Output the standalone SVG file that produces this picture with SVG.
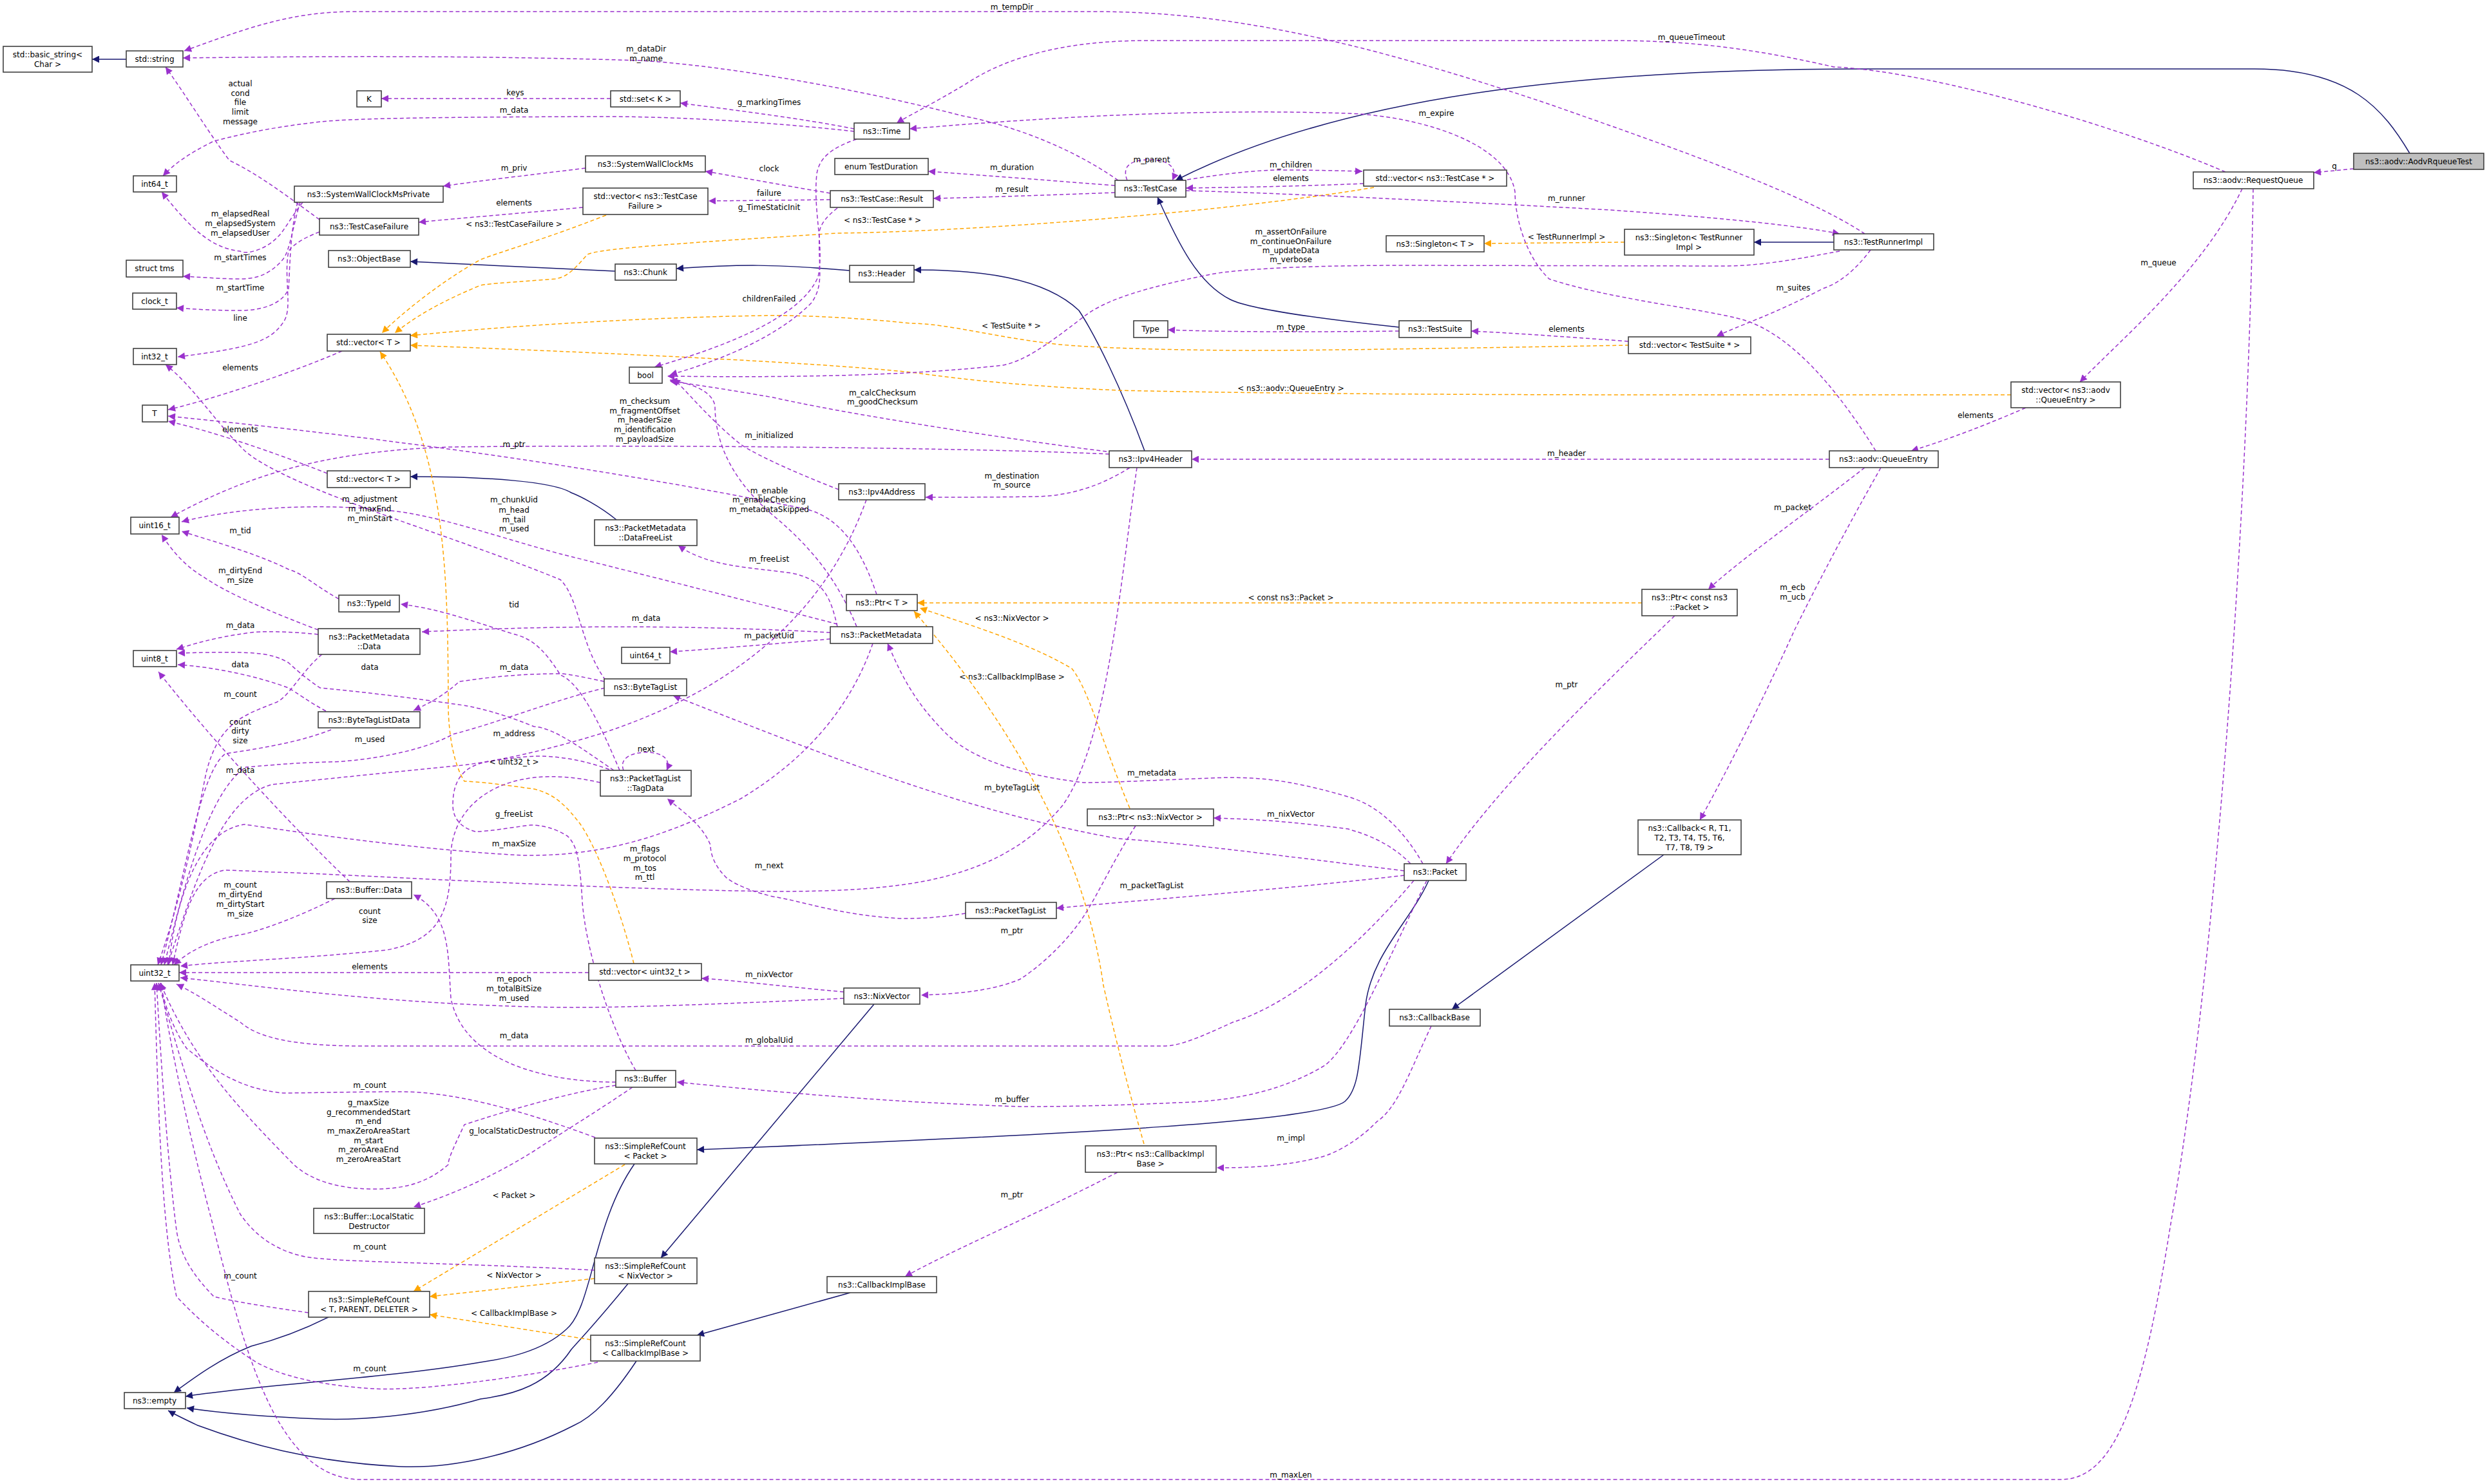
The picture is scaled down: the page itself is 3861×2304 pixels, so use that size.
<svg xmlns="http://www.w3.org/2000/svg" width="3861" height="2304" viewBox="0 0 3861 2304">
<style>
text{font-family:"DejaVu Sans","Liberation Sans",sans-serif;font-size:12px;fill:#000;text-anchor:middle}
.n rect{fill:#fff;stroke:#404040;stroke-width:1.6}
.c path{fill:none;stroke-width:1.5}
.nv{stroke:#191970}
.p{stroke:#9a32cd;stroke-dasharray:6,4}
.o{stroke:#ffa500;stroke-dasharray:6,4}
.c .nv{marker-end:url(#an)}
.c .p{marker-end:url(#ap)}
.c .o{marker-end:url(#ao)}
</style>
<defs>
<marker id="an" viewBox="0 0 10 10" refX="10" refY="5" markerWidth="13" markerHeight="11" markerUnits="userSpaceOnUse" orient="auto"><path d="M0,0L10,5L0,10z" fill="#191970"/></marker>
<marker id="ap" viewBox="0 0 10 10" refX="10" refY="5" markerWidth="13" markerHeight="11" markerUnits="userSpaceOnUse" orient="auto"><path d="M0,0L10,5L0,10z" fill="#9a32cd"/></marker>
<marker id="ao" viewBox="0 0 10 10" refX="10" refY="5" markerWidth="13" markerHeight="11" markerUnits="userSpaceOnUse" orient="auto"><path d="M0,0L10,5L0,10z" fill="#ffa500"/></marker>
</defs>
<rect width="3861" height="2304" fill="#fff"/>
<g class="c" id="connectors">
<path class="nv" d="M196,92 L143,92"/>
<path class="nv" d="M3741,238 C3700,170 3650,107 3500,107 L2900,107 C2500,107 2100,140 1825,280"/>
<path class="nv" d="M955,421 L637,406"/>
<path class="nv" d="M1319,420 C1200,410 1150,410 1050,417"/>
<path class="nv" d="M1777,700 C1740,600 1700,520 1675,482 C1620,430 1520,419 1419,419"/>
<path class="nv" d="M2172,508 C2050,495 1940,480 1910,465 C1860,440 1830,380 1797,306"/>
<path class="nv" d="M957,807 C930,785 900,770 887,765 C860,748 760,740 637,740"/>
<path class="nv" d="M2847,376 L2723,376"/>
<path class="nv" d="M2583,1327 L2254,1567"/>
<path class="nv" d="M2218,1367 C2190,1430 2130,1480 2120,1560 C2110,1650 2110,1690 2088,1710 C2050,1740 1700,1760 1082,1785"/>
<path class="nv" d="M1357,1559 L1026,1953"/>
<path class="nv" d="M1320,2007 L1082,2073"/>
<path class="nv" d="M510,2045 C470,2065 430,2080 390,2090 C340,2110 300,2140 270,2162"/>
<path class="nv" d="M985,1807 C920,1900 920,2030 879,2064 C840,2100 780,2110 746,2115 C600,2140 400,2150 288,2168"/>
<path class="nv" d="M975,1993 C920,2060 900,2080 887,2095 C850,2150 800,2165 746,2172 C650,2200 550,2205 497,2203 C420,2200 350,2195 290,2186"/>
<path class="nv" d="M988,2113 C950,2170 920,2200 891,2213 C800,2260 700,2280 622,2277 C480,2270 380,2240 307,2213 C290,2205 275,2198 261,2190"/>
<path class="o" d="M941,334 C850,370 780,390 746,403 C680,440 620,490 593,517"/>
<path class="o" d="M2133,291 C1900,330 1500,360 1300,362 C1100,375 930,385 912,395 C890,420 880,430 862,433 C800,438 760,440 746,443 C680,470 640,495 613,517"/>
<path class="o" d="M2529,536 C2300,540 2000,545 1914,544 C1800,543 1700,540 1646,535 C1550,525 1470,502 1414,502 C1300,490 1200,489 1186,490 C1000,493 800,505 637,521"/>
<path class="o" d="M3122,613 L2600,613 C2200,613 1900,610 1736,606 C1600,600 1500,590 1423,579 C1300,565 1000,550 637,536"/>
<path class="o" d="M2522,376 L2304,378"/>
<path class="o" d="M984,1496 C960,1400 920,1300 895,1272 C870,1240 850,1230 829,1225 C760,1215 730,1213 721,1213 C700,1180 696,1120 696,1098 C695,900 695,700 590,546"/>
<path class="o" d="M2549,936 L1424,936"/>
<path class="o" d="M1754,1255 C1710,1150 1690,1070 1664,1038 C1600,1000 1520,975 1428,944"/>
<path class="o" d="M1776,1776 C1740,1650 1720,1560 1713,1530 C1680,1300 1550,1100 1419,949"/>
<path class="o" d="M970,1808 L642,2005"/>
<path class="o" d="M923,1985 L667,2013"/>
<path class="o" d="M917,2080 L667,2041"/>
<path class="p" d="M1736,280 C1650,220 1550,190 1495,180 C1300,130 1100,100 995,94 C700,85 450,88 284,90"/>
<path class="p" d="M2895,363 C2800,300 2600,230 2400,160 C2100,60 1900,18 1700,18 L550,18 C450,18 380,45 286,79"/>
<path class="p" d="M3455,267 C3300,200 3000,110 2847,104 C2700,70 2600,63 2500,63 L1780,63 C1650,63 1560,90 1500,130 C1450,160 1410,180 1392,191"/>
<path class="p" d="M2912,700 C2850,600 2780,520 2708,497 C2650,480 2500,465 2405,433 C2370,400 2352,340 2352,298 C2340,220 2200,180 2093,176 C1900,170 1700,176 1412,200"/>
<path class="p" d="M948,153 L592,153"/>
<path class="p" d="M1326,200 C1250,185 1150,172 1056,160"/>
<path class="p" d="M1326,204 C1200,190 1050,180 912,181 C700,182 560,183 497,189 C400,200 350,215 332,219 C290,240 270,255 253,273"/>
<path class="p" d="M1330,216 C1290,230 1272,245 1268,270 C1262,330 1280,380 1270,430 C1240,500 1100,545 1016,570"/>
<path class="p" d="M1300,323 C1285,335 1275,345 1272,360 C1270,420 1280,440 1260,470 C1200,530 1100,565 1040,582"/>
<path class="p" d="M1289,300 C1200,285 1150,275 1095,266"/>
<path class="p" d="M1289,310 L1100,312"/>
<path class="p" d="M909,261 C820,272 750,280 688,289"/>
<path class="p" d="M905,322 C800,332 720,338 650,345"/>
<path class="p" d="M496,341 C440,300 400,270 356,249 C320,200 290,150 257,104"/>
<path class="p" d="M496,360 C470,370 455,380 448,390 C440,430 455,480 440,500 C420,530 390,540 276,554"/>
<path class="p" d="M470,314 C450,340 440,360 431,368 C410,390 380,395 373,390 C330,385 300,360 251,298"/>
<path class="p" d="M466,314 C455,350 450,390 439,403 C420,425 400,433 373,433 C340,433 310,430 284,429"/>
<path class="p" d="M462,314 C450,360 450,420 448,448 C440,470 410,482 373,482 C330,482 300,480 274,478"/>
<path class="p" d="M531,545 C450,580 330,620 261,636"/>
<path class="p" d="M508,735 C420,700 330,670 261,654"/>
<path class="p" d="M1361,923 C1330,830 1290,800 1250,790 C1000,740 700,690 261,646"/>
<path class="p" d="M1722,705 C1500,695 1000,690 700,694 C500,700 380,740 265,803"/>
<path class="p" d="M1718,701 C1550,680 1300,640 1200,617 C1130,605 1080,597 1040,592"/>
<path class="p" d="M1302,760 C1250,740 1180,710 1150,690 C1100,650 1060,600 1045,588"/>
<path class="p" d="M1754,726 C1700,760 1650,771 1602,771 C1550,772 1480,772 1437,772"/>
<path class="p" d="M2840,713 L1850,713"/>
<path class="p" d="M1750,280 C1740,255 1760,248 1785,248 C1810,248 1830,258 1820,280"/>
<path class="p" d="M1731,288 C1600,278 1500,270 1441,266"/>
<path class="p" d="M1731,299 C1600,304 1500,307 1449,308"/>
<path class="p" d="M1843,279 C1900,270 1950,264 1986,264 C2040,264 2080,265 2115,266"/>
<path class="p" d="M2117,285 C2000,290 1900,291 1841,292"/>
<path class="p" d="M1841,296 C2000,300 2300,315 2500,326 C2700,340 2800,352 2856,363"/>
<path class="p" d="M2856,390 C2800,400 2740,413 2674,413 L2182,412 C2000,412 1900,420 1870,428 C1760,450 1710,470 1682,492 C1620,540 1590,560 1557,567 C1400,585 1200,586 1036,584"/>
<path class="p" d="M2904,388 C2880,420 2855,440 2830,448 C2750,490 2700,505 2665,522"/>
<path class="p" d="M2528,530 C2420,522 2330,516 2284,514"/>
<path class="p" d="M2172,514 C2000,516 1880,515 1813,512"/>
<path class="p" d="M3654,262 L3592,268"/>
<path class="p" d="M3481,293 C3420,420 3300,520 3229,593"/>
<path class="p" d="M3498,293 C3490,800 3440,1500 3370,1900 C3330,2150 3290,2297 3200,2297 L560,2297 C430,2297 380,2100 330,1900 C290,1750 260,1600 250,1526"/>
<path class="p" d="M3145,633 C3060,670 3000,690 2967,700"/>
<path class="p" d="M2895,726 C2800,800 2700,870 2652,915"/>
<path class="p" d="M2920,726 C2850,850 2810,930 2786,978 C2740,1080 2680,1200 2639,1273"/>
<path class="p" d="M2600,956 C2450,1100 2320,1230 2245,1341"/>
<path class="p" d="M2209,1341 C2180,1290 2140,1250 2093,1237 C2000,1210 1950,1205 1879,1208 C1780,1212 1720,1215 1682,1215 C1560,1200 1500,1170 1468,1138 C1420,1090 1400,1050 1378,999"/>
<path class="p" d="M2180,1352 C2000,1330 1850,1310 1736,1302 C1500,1260 1300,1180 1045,1080"/>
<path class="p" d="M2190,1341 C2150,1300 2100,1290 2093,1287 C2000,1275 1950,1272 1884,1270"/>
<path class="p" d="M2180,1359 C2000,1380 1800,1395 1640,1410"/>
<path class="p" d="M2215,1367 C2150,1500 2100,1620 2057,1654 C1980,1700 1900,1710 1825,1712 C1700,1718 1620,1718 1584,1718 C1400,1712 1250,1700 1051,1680"/>
<path class="p" d="M2195,1367 C2100,1480 2000,1560 1914,1587 C1860,1612 1830,1624 1807,1624 L564,1624 C450,1624 400,1610 373,1587 C330,1560 300,1540 274,1528"/>
<path class="p" d="M1310,1550 C1100,1560 950,1565 870,1564 C600,1560 400,1530 280,1518"/>
<path class="p" d="M1310,1540 C1200,1530 1140,1522 1089,1519"/>
<path class="p" d="M914,1510 L278,1510"/>
<path class="p" d="M1763,1282 C1720,1350 1700,1400 1673,1436 C1640,1480 1600,1510 1584,1520 C1550,1535 1500,1543 1430,1545"/>
<path class="p" d="M1735,1820 C1600,1890 1480,1940 1405,1982"/>
<path class="p" d="M2222,1593 C2190,1660 2170,1720 2138,1741 C2100,1780 2060,1795 2048,1797 C1990,1812 1930,1813 1889,1813"/>
<path class="p" d="M1300,973 C1290,930 1280,900 1230,890 C1160,880 1100,880 1053,847"/>
<path class="p" d="M1289,982 C1100,972 900,969 655,981"/>
<path class="p" d="M1289,992 C1200,1000 1100,1008 1040,1012"/>
<path class="p" d="M1300,969 C1150,930 950,880 870,860 C760,830 680,800 600,792 C480,780 360,790 282,810"/>
<path class="p" d="M940,1056 C900,1000 900,930 870,900 C700,830 450,760 380,700 C330,650 300,600 257,566"/>
<path class="p" d="M494,985 C450,980 400,980 390,982 C330,990 300,1000 274,1008"/>
<path class="p" d="M494,978 C420,950 350,920 315,895 C290,880 270,860 251,830"/>
<path class="p" d="M526,930 C490,910 470,890 448,884 C400,860 330,840 282,825"/>
<path class="p" d="M506,1104 C480,1090 460,1075 448,1068 C400,1050 330,1035 276,1032"/>
<path class="p" d="M953,1196 C900,1160 860,1130 829,1128 C760,1100 720,1095 705,1093 C600,1078 520,1070 497,1068 C470,1050 455,1035 448,1029 C420,1012 390,1011 276,1014"/>
<path class="p" d="M962,1196 C930,1120 900,1060 870,1048 C840,1000 820,990 796,984 C720,960 680,945 622,938"/>
<path class="p" d="M968,1196 C960,1175 985,1168 1003,1168 C1030,1168 1042,1180 1035,1196"/>
<path class="p" d="M1499,1418 C1450,1426 1420,1426 1396,1426 C1300,1420 1250,1400 1200,1392 C1150,1380 1130,1365 1127,1362 C1105,1340 1103,1320 1103,1312 C1090,1280 1060,1260 1036,1240"/>
<path class="p" d="M938,1058 C900,1050 880,1046 870,1046 C780,1046 720,1058 713,1058 C690,1080 660,1095 642,1103"/>
<path class="p" d="M982,1688 C920,1730 870,1760 829,1787 C760,1830 700,1855 642,1874"/>
<path class="p" d="M956,1680 C850,1680 720,1650 700,1550 C695,1480 700,1420 642,1389"/>
<path class="p" style="marker-end:none" d="M987,1662 C950,1600 910,1480 904,1400 C900,1330 895,1312 881,1298 C860,1285 840,1281 824,1281 C790,1285 760,1291 738,1291 C715,1285 703,1270 703,1250 C703,1210 720,1190 755,1183 C800,1175 830,1174 835,1174 C880,1174 920,1185 947,1195"/>
<path class="p" d="M500,1016 C470,1040 450,1080 430,1090 C380,1110 340,1120 320,1200 C300,1300 280,1400 245,1498"/>
<path class="p" d="M514,1133 C470,1150 420,1160 350,1170 C310,1200 290,1350 250,1498"/>
<path class="p" d="M939,1068 C850,1090 780,1120 703,1140 C650,1170 550,1183 508,1183 C440,1185 400,1190 382,1191 C320,1230 280,1400 255,1498"/>
<path class="p" d="M1345,776 C1300,900 1200,1050 939,1137 C850,1165 760,1185 698,1190 C550,1205 450,1215 422,1218 C340,1240 300,1380 260,1498"/>
<path class="p" d="M1355,999 C1320,1100 1250,1180 1150,1240 C1050,1290 950,1330 812,1328 C650,1320 450,1290 380,1280 C300,1290 270,1420 262,1498"/>
<path class="p" d="M1765,726 C1740,900 1720,1150 1650,1250 C1550,1370 1400,1384 1200,1384 C900,1380 500,1355 422,1354 C380,1352 360,1351 348,1351 C300,1360 285,1420 268,1498"/>
<path class="p" d="M543,1369 C450,1280 330,1150 246,1043"/>
<path class="p" d="M520,1395 C470,1420 420,1440 380,1450 C320,1460 290,1480 270,1498"/>
<path class="p" d="M932,1215 C780,1180 700,1250 700,1330 C700,1420 680,1460 600,1475 C450,1490 350,1492 280,1500"/>
<path class="p" d="M956,1685 C860,1700 740,1740 721,1746 C700,1790 696,1800 696,1808 C660,1840 620,1846 580,1846 C520,1846 480,1830 456,1808 C380,1730 300,1650 249,1526"/>
<path class="p" d="M924,1766 C800,1720 700,1695 622,1695 C550,1695 470,1697 439,1697 C370,1690 330,1660 290,1628 C270,1600 255,1560 249,1526"/>
<path class="p" d="M923,1972 C700,1960 520,1960 473,1951 C420,1940 390,1910 373,1885 C320,1780 290,1680 246,1526"/>
<path class="p" d="M479,2038 C420,2030 360,2020 332,2013 C300,1980 280,1950 274,1910 C260,1800 250,1650 243,1526"/>
<path class="p" d="M928,2115 C800,2140 650,2160 580,2156 C480,2150 420,2130 390,2110 C330,2070 300,2040 274,2013 C250,1900 245,1700 240,1526"/>
<path class="p" d="M1330,973 C1300,900 1260,850 1200,800 C1130,740 1110,680 1110,630 C1105,605 1070,595 1040,590"/>
</g>
<g id="labels">
<text x="1571" y="15">m_tempDir</text>
<text x="2626" y="62">m_queueTimeout</text>
<text x="1003" y="80">m_dataDir</text><text x="1003" y="95">m_name</text>
<text x="800" y="148">keys</text>
<text x="1194" y="163">g_markingTimes</text>
<text x="798" y="175">m_data</text>
<text x="2230" y="180">m_expire</text>
<text x="373" y="134">actual</text><text x="373" y="149">cond</text><text x="373" y="163">file</text><text x="373" y="178">limit</text><text x="373" y="193">message</text>
<text x="1788" y="252">m_parent</text>
<text x="2004" y="260">m_children</text>
<text x="798" y="265">m_priv</text>
<text x="1194" y="266">clock</text>
<text x="1571" y="264">m_duration</text>
<text x="2004" y="281">elements</text>
<text x="1571" y="298">m_result</text>
<text x="1194" y="304">failure</text>
<text x="2432" y="312">m_runner</text>
<text x="798" y="319">elements</text>
<text x="1194" y="326">g_TimeStaticInit</text>
<text x="373" y="336">m_elapsedReal</text><text x="373" y="351">m_elapsedSystem</text><text x="373" y="366">m_elapsedUser</text>
<text x="1370" y="346">&lt; ns3::TestCase * &gt;</text>
<text x="798" y="352">&lt; ns3::TestCaseFailure &gt;</text>
<text x="2004" y="364">m_assertOnFailure</text><text x="2004" y="379">m_continueOnFailure</text><text x="2004" y="393">m_updateData</text><text x="2004" y="407">m_verbose</text>
<text x="2432" y="372">&lt; TestRunnerImpl &gt;</text>
<text x="373" y="404">m_startTimes</text>
<text x="3351" y="412">m_queue</text>
<text x="2784" y="451">m_suites</text>
<text x="373" y="451">m_startTime</text>
<text x="1194" y="468">childrenFailed</text>
<text x="373" y="498">line</text>
<text x="1570" y="510">&lt; TestSuite * &gt;</text>
<text x="2004" y="512">m_type</text>
<text x="2432" y="515">elements</text>
<text x="373" y="575">elements</text>
<text x="2004" y="607">&lt; ns3::aodv::QueueEntry &gt;</text>
<text x="1370" y="614">m_calcChecksum</text><text x="1370" y="628">m_goodChecksum</text>
<text x="1001" y="627">m_checksum</text><text x="1001" y="642">m_fragmentOffset</text><text x="1001" y="656">m_headerSize</text><text x="1001" y="671">m_identification</text><text x="1001" y="686">m_payloadSize</text>
<text x="3067" y="649">elements</text>
<text x="373" y="671">elements</text>
<text x="1194" y="680">m_initialized</text>
<text x="798" y="694">m_ptr</text>
<text x="2432" y="708">m_header</text>
<text x="1571" y="743">m_destination</text><text x="1571" y="757">m_source</text>
<text x="1194" y="766">m_enable</text><text x="1194" y="780">m_enableChecking</text><text x="1194" y="795">m_metadataSkipped</text>
<text x="574" y="779">m_adjustment</text><text x="574" y="794">m_maxEnd</text><text x="574" y="809">m_minStart</text>
<text x="798" y="780">m_chunkUid</text><text x="798" y="796">m_head</text><text x="798" y="811">m_tail</text><text x="798" y="825">m_used</text>
<text x="2783" y="792">m_packet</text>
<text x="373" y="828">m_tid</text>
<text x="1194" y="872">m_freeList</text>
<text x="373" y="890">m_dirtyEnd</text><text x="373" y="905">m_size</text>
<text x="2783" y="916">m_ecb</text><text x="2783" y="931">m_ucb</text>
<text x="2004" y="932">&lt; const ns3::Packet &gt;</text>
<text x="798" y="943">tid</text>
<text x="1571" y="964">&lt; ns3::NixVector &gt;</text>
<text x="1003" y="964">m_data</text>
<text x="373" y="975">m_data</text>
<text x="1194" y="991">m_packetUid</text>
<text x="373" y="1036">data</text>
<text x="574" y="1040">data</text>
<text x="798" y="1040">m_data</text>
<text x="1571" y="1055">&lt; ns3::CallbackImplBase &gt;</text>
<text x="2432" y="1067">m_ptr</text>
<text x="373" y="1082">m_count</text>
<text x="373" y="1125">count</text><text x="373" y="1139">dirty</text><text x="373" y="1154">size</text>
<text x="798" y="1143">m_address</text>
<text x="574" y="1152">m_used</text>
<text x="1003" y="1167">next</text>
<text x="798" y="1187">&lt; uint32_t &gt;</text>
<text x="373" y="1200">m_data</text>
<text x="1788" y="1204">m_metadata</text>
<text x="1571" y="1227">m_byteTagList</text>
<text x="798" y="1268">g_freeList</text>
<text x="2004" y="1268">m_nixVector</text>
<text x="1001" y="1322">m_flags</text><text x="1001" y="1337">m_protocol</text><text x="1001" y="1352">m_tos</text><text x="1001" y="1366">m_ttl</text>
<text x="798" y="1314">m_maxSize</text>
<text x="1194" y="1348">m_next</text>
<text x="1788" y="1379">m_packetTagList</text>
<text x="373" y="1378">m_count</text><text x="373" y="1393">m_dirtyEnd</text><text x="373" y="1408">m_dirtyStart</text><text x="373" y="1423">m_size</text>
<text x="574" y="1419">count</text><text x="574" y="1433">size</text>
<text x="1571" y="1449">m_ptr</text>
<text x="574" y="1505">elements</text>
<text x="1194" y="1517">m_nixVector</text>
<text x="798" y="1524">m_epoch</text><text x="798" y="1539">m_totalBitSize</text><text x="798" y="1554">m_used</text>
<text x="798" y="1612">m_data</text>
<text x="1194" y="1619">m_globalUid</text>
<text x="574" y="1689">m_count</text>
<text x="1571" y="1711">m_buffer</text>
<text x="572" y="1716">g_maxSize</text><text x="572" y="1731">g_recommendedStart</text><text x="572" y="1745">m_end</text><text x="572" y="1760">m_maxZeroAreaStart</text><text x="572" y="1775">m_start</text><text x="572" y="1789">m_zeroAreaEnd</text><text x="572" y="1804">m_zeroAreaStart</text>
<text x="798" y="1760">g_localStaticDestructor</text>
<text x="2004" y="1771">m_impl</text>
<text x="798" y="1860">&lt; Packet &gt;</text>
<text x="1571" y="1859">m_ptr</text>
<text x="574" y="1940">m_count</text>
<text x="373" y="1985">m_count</text>
<text x="798" y="1984">&lt; NixVector &gt;</text>
<text x="798" y="2043">&lt; CallbackImplBase &gt;</text>
<text x="574" y="2129">m_count</text>
<text x="2004" y="2294">m_maxLen</text>
<text x="3624" y="262">q</text>
</g>
<g class="n">
<g id="n_basic_string"><rect x="5" y="72" width="138" height="40"/><text x="74" y="89">std::basic_string&lt;</text><text x="74" y="104">Char &gt;</text></g>
<g id="n_string"><rect x="196" y="79" width="88" height="25"/><text x="240" y="96">std::string</text></g>
<g id="n_K"><rect x="554" y="141" width="38" height="25"/><text x="573" y="158">K</text></g>
<g id="n_set"><rect x="948" y="141" width="108" height="25"/><text x="1002" y="158">std::set&lt; K &gt;</text></g>
<g id="n_int64"><rect x="207" y="273" width="67" height="25"/><text x="240" y="290">int64_t</text></g>
<g id="n_swcm"><rect x="909" y="242" width="186" height="25"/><text x="1002" y="259">ns3::SystemWallClockMs</text></g>
<g id="n_swcmp"><rect x="457" y="289" width="231" height="25"/><text x="572" y="306">ns3::SystemWallClockMsPrivate</text></g>
<g id="n_vtcf"><rect x="905" y="292" width="194" height="41"/><text x="1002" y="309">std::vector&lt; ns3::TestCase</text><text x="1002" y="324">Failure &gt;</text></g>
<g id="n_tcf"><rect x="496" y="339" width="154" height="26"/><text x="573" y="356">ns3::TestCaseFailure</text></g>
<g id="n_tms"><rect x="196" y="404" width="88" height="26"/><text x="240" y="421">struct tms</text></g>
<g id="n_objbase"><rect x="510" y="389" width="127" height="26"/><text x="573" y="406">ns3::ObjectBase</text></g>
<g id="n_chunk"><rect x="955" y="410" width="95" height="25"/><text x="1002" y="427">ns3::Chunk</text></g>
<g id="n_clock"><rect x="206" y="455" width="68" height="25"/><text x="240" y="472">clock_t</text></g>
<g id="n_vT1"><rect x="508" y="519" width="129" height="26"/><text x="572" y="536">std::vector&lt; T &gt;</text></g>
<g id="n_int32"><rect x="207" y="541" width="67" height="25"/><text x="240" y="558">int32_t</text></g>
<g id="n_bool"><rect x="977" y="570" width="51" height="25"/><text x="1002" y="587">bool</text></g>
<g id="n_T"><rect x="221" y="629" width="39" height="26"/><text x="240" y="646">T</text></g>
<g id="n_vT2"><rect x="508" y="731" width="129" height="26"/><text x="572" y="748">std::vector&lt; T &gt;</text></g>
<g id="n_time"><rect x="1326" y="191" width="86" height="25"/><text x="1369" y="208">ns3::Time</text></g>
<g id="n_dur"><rect x="1296" y="246" width="145" height="25"/><text x="1368" y="263">enum TestDuration</text></g>
<g id="n_result"><rect x="1289" y="296" width="160" height="26"/><text x="1369" y="313">ns3::TestCase::Result</text></g>
<g id="n_testcase"><rect x="1731" y="280" width="110" height="26"/><text x="1786" y="297">ns3::TestCase</text></g>
<g id="n_vtc"><rect x="2117" y="264" width="222" height="25"/><text x="2228" y="281">std::vector&lt; ns3::TestCase * &gt;</text></g>
<g id="n_singT"><rect x="2152" y="366" width="152" height="25"/><text x="2228" y="383">ns3::Singleton&lt; T &gt;</text></g>
<g id="n_header"><rect x="1319" y="412" width="100" height="26"/><text x="1369" y="429">ns3::Header</text></g>
<g id="n_type"><rect x="1760" y="498" width="53" height="26"/><text x="1786" y="515">Type</text></g>
<g id="n_suite"><rect x="2172" y="498" width="112" height="26"/><text x="2228" y="515">ns3::TestSuite</text></g>
<g id="n_ipv4h"><rect x="1722" y="700" width="128" height="26"/><text x="1786" y="717">ns3::Ipv4Header</text></g>
<g id="n_ipv4a"><rect x="1302" y="751" width="134" height="25"/><text x="1369" y="768">ns3::Ipv4Address</text></g>
<g id="n_aodvtest"><rect x="3654" y="238" width="202" height="25" style="fill:#bfbfbf"/><text x="3755" y="255">ns3::aodv::AodvRqueueTest</text></g>
<g id="n_rq"><rect x="3405" y="267" width="187" height="26"/><text x="3498" y="284">ns3::aodv::RequestQueue</text></g>
<g id="n_singTR"><rect x="2522" y="356" width="201" height="40"/><text x="2622" y="373">ns3::Singleton&lt; TestRunner</text><text x="2622" y="388">Impl &gt;</text></g>
<g id="n_runner"><rect x="2847" y="363" width="155" height="25"/><text x="2924" y="380">ns3::TestRunnerImpl</text></g>
<g id="n_vts"><rect x="2528" y="523" width="190" height="26"/><text x="2623" y="540">std::vector&lt; TestSuite * &gt;</text></g>
<g id="n_vqe"><rect x="3122" y="593" width="170" height="40"/><text x="3207" y="610">std::vector&lt; ns3::aodv</text><text x="3207" y="625">::QueueEntry &gt;</text></g>
<g id="n_qe"><rect x="2840" y="700" width="169" height="26"/><text x="2924" y="717">ns3::aodv::QueueEntry</text></g>
<g id="n_uint16"><rect x="203" y="803" width="75" height="26"/><text x="240" y="820">uint16_t</text></g>
<g id="n_dfl"><rect x="923" y="807" width="159" height="40"/><text x="1002" y="824">ns3::PacketMetadata</text><text x="1002" y="839">::DataFreeList</text></g>
<g id="n_typeid"><rect x="526" y="924" width="94" height="26"/><text x="573" y="941">ns3::TypeId</text></g>
<g id="n_pmdata"><rect x="494" y="976" width="158" height="40"/><text x="573" y="993">ns3::PacketMetadata</text><text x="573" y="1008">::Data</text></g>
<g id="n_uint8"><rect x="207" y="1010" width="67" height="25"/><text x="240" y="1027">uint8_t</text></g>
<g id="n_uint64"><rect x="965" y="1005" width="75" height="25"/><text x="1002" y="1022">uint64_t</text></g>
<g id="n_btl"><rect x="938" y="1054" width="128" height="26"/><text x="1002" y="1071">ns3::ByteTagList</text></g>
<g id="n_btld"><rect x="494" y="1105" width="158" height="25"/><text x="573" y="1122">ns3::ByteTagListData</text></g>
<g id="n_tagdata"><rect x="932" y="1196" width="141" height="40"/><text x="1002" y="1213">ns3::PacketTagList</text><text x="1002" y="1228">::TagData</text></g>
<g id="n_bufdata"><rect x="507" y="1369" width="132" height="26"/><text x="573" y="1386">ns3::Buffer::Data</text></g>
<g id="n_uint32"><rect x="203" y="1498" width="75" height="25"/><text x="240" y="1515">uint32_t</text></g>
<g id="n_vu32"><rect x="914" y="1496" width="175" height="26"/><text x="1001" y="1513">std::vector&lt; uint32_t &gt;</text></g>
<g id="n_ptrT"><rect x="1314" y="923" width="110" height="25"/><text x="1369" y="940">ns3::Ptr&lt; T &gt;</text></g>
<g id="n_pm"><rect x="1289" y="973" width="159" height="26"/><text x="1368" y="990">ns3::PacketMetadata</text></g>
<g id="n_ptrpkt"><rect x="2549" y="915" width="148" height="41"/><text x="2623" y="932">ns3::Ptr&lt; const ns3</text><text x="2623" y="947">::Packet &gt;</text></g>
<g id="n_ptrnv"><rect x="1688" y="1256" width="196" height="26"/><text x="1786" y="1273">ns3::Ptr&lt; ns3::NixVector &gt;</text></g>
<g id="n_packet"><rect x="2180" y="1341" width="96" height="26"/><text x="2228" y="1358">ns3::Packet</text></g>
<g id="n_ptl"><rect x="1499" y="1401" width="141" height="25"/><text x="1569" y="1418">ns3::PacketTagList</text></g>
<g id="n_callback"><rect x="2543" y="1273" width="160" height="54"/><text x="2623" y="1290">ns3::Callback&lt; R, T1,</text><text x="2623" y="1305">T2, T3, T4, T5, T6,</text><text x="2623" y="1320">T7, T8, T9 &gt;</text></g>
<g id="n_buffer"><rect x="956" y="1662" width="93" height="26"/><text x="1002" y="1679">ns3::Buffer</text></g>
<g id="n_srcp"><rect x="923" y="1767" width="159" height="40"/><text x="1002" y="1784">ns3::SimpleRefCount</text><text x="1002" y="1799">&lt; Packet &gt;</text></g>
<g id="n_lsd"><rect x="487" y="1876" width="172" height="39"/><text x="573" y="1893">ns3::Buffer::LocalStatic</text><text x="573" y="1908">Destructor</text></g>
<g id="n_srcnv"><rect x="923" y="1953" width="159" height="40"/><text x="1002" y="1970">ns3::SimpleRefCount</text><text x="1002" y="1985">&lt; NixVector &gt;</text></g>
<g id="n_srctpd"><rect x="479" y="2005" width="188" height="40"/><text x="573" y="2022">ns3::SimpleRefCount</text><text x="573" y="2037">&lt; T, PARENT, DELETER &gt;</text></g>
<g id="n_srccib"><rect x="917" y="2073" width="170" height="40"/><text x="1002" y="2090">ns3::SimpleRefCount</text><text x="1002" y="2105">&lt; CallbackImplBase &gt;</text></g>
<g id="n_empty"><rect x="193" y="2162" width="95" height="25"/><text x="240" y="2179">ns3::empty</text></g>
<g id="n_nixvector"><rect x="1310" y="1534" width="118" height="25"/><text x="1369" y="1551">ns3::NixVector</text></g>
<g id="n_cbbase"><rect x="2157" y="1567" width="141" height="26"/><text x="2227" y="1584">ns3::CallbackBase</text></g>
<g id="n_ptrcib"><rect x="1685" y="1779" width="203" height="41"/><text x="1786" y="1796">ns3::Ptr&lt; ns3::CallbackImpl</text><text x="1786" y="1811">Base &gt;</text></g>
<g id="n_cib"><rect x="1284" y="1982" width="170" height="25"/><text x="1369" y="1999">ns3::CallbackImplBase</text></g>
</g>
</svg>
